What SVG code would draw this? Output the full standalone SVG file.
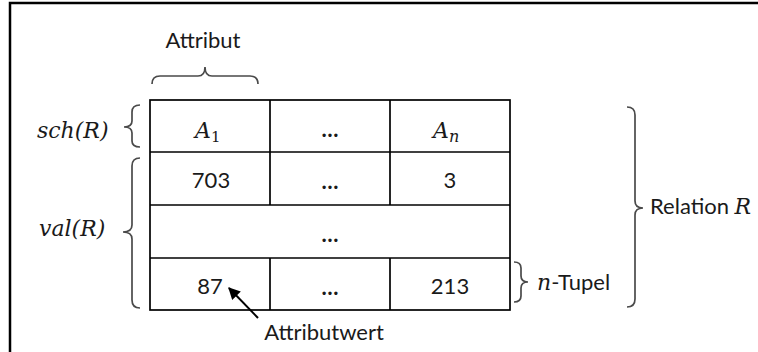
<svg xmlns="http://www.w3.org/2000/svg" width="758" height="352" viewBox="0 0 758 352">
<style>
.t{font-family:Lato,"Open Sans",sans-serif;font-size:22px;fill:#1a1a1a;text-anchor:middle}
.d{font-family:Lato,"Open Sans",sans-serif;font-size:22px;font-weight:bold;fill:#1a1a1a;text-anchor:middle}
.m{font-family:"DejaVu Serif",serif;font-style:italic;font-size:22px;fill:#1a1a1a}
.br{fill:none;stroke:#4a4a4a;stroke-width:1.7}
.ln{stroke:#000;stroke-width:1.7;fill:none}
</style>
<defs>
<marker id="ah" viewBox="0 0 10 10" refX="9" refY="5" markerWidth="13" markerHeight="12" markerUnits="userSpaceOnUse" orient="auto">
<path d="M0,0 L10,5 L0,10 z" fill="#000"/>
</marker>
</defs>
<rect width="758" height="352" fill="#fff"/>
<path d="M10,352 L10,3 L758,3" fill="none" stroke="#000" stroke-width="2.5"/>
<g id="table">
<rect x="150" y="100" width="360" height="210" class="ln"/>
<line x1="150" y1="152" x2="510" y2="152" class="ln"/>
<line x1="150" y1="205" x2="510" y2="205" class="ln"/>
<line x1="150" y1="258" x2="510" y2="258" class="ln"/>
<line x1="270" y1="100" x2="270" y2="205" class="ln"/>
<line x1="390" y1="100" x2="390" y2="205" class="ln"/>
<line x1="270" y1="258" x2="270" y2="310" class="ln"/>
<line x1="390" y1="258" x2="390" y2="310" class="ln"/>
</g>
<g id="cells">
<text class="m" x="195" y="138">A<tspan font-size="15" font-style="normal" dy="4">1</tspan></text>
<text class="d" x="330" y="137">…</text>
<text class="m" x="433" y="138">A<tspan font-size="16" dy="4">n</tspan></text>
<text class="t" x="211" y="188">703</text>
<text class="d" x="330" y="189">…</text>
<text class="t" x="450" y="188">3</text>
<text class="d" x="330" y="242">…</text>
<text class="t" x="210" y="294">87</text>
<text class="d" x="330" y="295">…</text>
<text class="t" x="450" y="294">213</text>
</g>
<g id="attribut">
<text class="t" x="203" y="48">Attribut</text>
<path class="br" d="M152,84 Q152,76 160,76 L198,76 Q205,76 205,67 Q205,76 212,76 L250,76 Q258,76 258,84"/>
</g>
<g id="sch">
<text class="m" x="37" y="138">sch(R)</text>
<path class="br" d="M140,105 Q132,105 132,112 L132,121 Q132,127 124,127 Q132,127 132,133 L132,141 Q132,147 140,147"/>
</g>
<g id="val">
<text class="m" x="39" y="236">val(R)</text>
<path class="br" d="M140,158 Q132,158 132,166 L132,225 Q132,232 123,232 Q132,232 132,239 L132,300 Q132,308 140,308"/>
</g>
<g id="tupel">
<path class="br" d="M514,262 Q521,262 521,268 L521,276 Q521,282 528,282 Q521,282 521,288 L521,296 Q521,302 514,302"/>
<text x="537" y="290" style="font-family:Lato,sans-serif;font-size:22px;fill:#1a1a1a"><tspan style="font-family:'DejaVu Serif',serif;font-style:italic">n</tspan>-Tupel</text>
</g>
<g id="relation">
<path class="br" d="M627,107 Q635,107 635,115 L635,201 Q635,208 643,208 Q635,208 635,215 L635,299 Q635,307 627,307"/>
<text x="650" y="214" style="font-family:Lato,sans-serif;font-size:22px;fill:#1a1a1a">Relation <tspan style="font-family:'DejaVu Serif',serif;font-style:italic">R</tspan></text>
</g>
<g id="connectors">
<line x1="258" y1="318" x2="229" y2="288" stroke="#000" stroke-width="2" marker-end="url(#ah)"/>
</g>
<g id="attributwert">
<text class="t" x="324" y="340">Attributwert</text>
</g>
</svg>
